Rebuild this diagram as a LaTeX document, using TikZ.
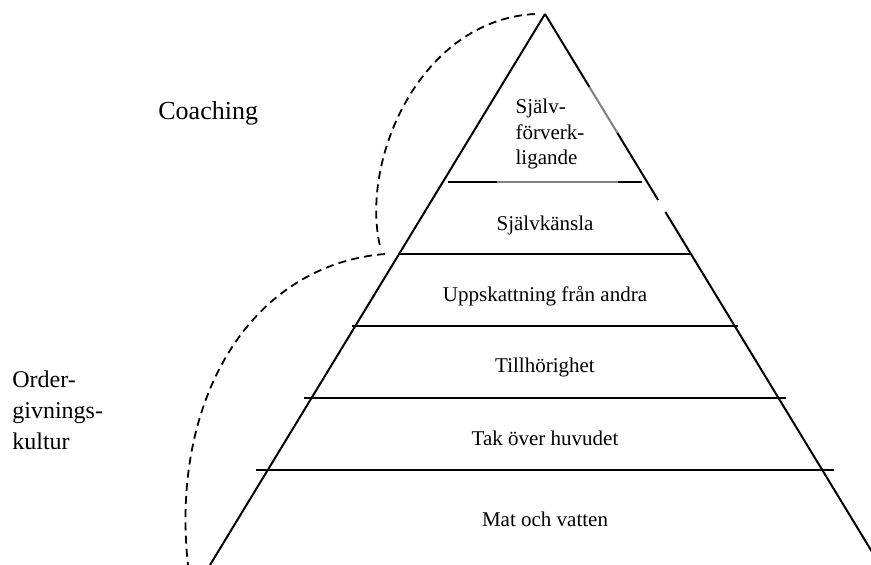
\documentclass[tikz,border=0pt]{standalone}
\usepackage{fontspec}
\setmainfont{Liberation Serif}

\colorlet{pyrLine}{black}
\colorlet{pyrGrey}{black!50}

\tikzset{
  side/.style={pyrLine, line width=1pt},
  level/.style={pyrLine, line width=1pt},
  zone/.style={pyrLine, line width=0.9pt, dash pattern=on 4pt off 2.6pt},
  lbl/.style={font=\fontsize{10.5}{12}\selectfont, inner sep=0pt},
  sidelbl/.style={anchor=west, align=left, inner sep=0pt}
}

\begin{document}
\begin{tikzpicture}[x=0.5pt, y=-0.5pt]
        \useasboundingbox (0,0) rectangle (871,565);
        \clip (0,0) rectangle (871,565);
        % apex and base
        \coordinate (T) at (545,14);
        \coordinate (L) at (210,565);
        \coordinate (R) at (880,565);
        % sides, right side with grey piece and a gap
        \draw[side] (T)--(L);
        \draw[side] (T)--(589.4,87);
        \draw[pyrGrey, line width=1pt] (589.4,87)--(617.4,133);
        \draw[side] (617.4,133)--(658.1,200);
        \draw[side] (665.4,212)--(R);
        % top level line
        \draw[level] (448,182)--(497,182);
        \draw[pyrGrey, line width=1pt] (497,182)--(618,182);
        \draw[level] (618,182)--(642,182);
        % other level lines
        \foreach \y/\w in {254/146, 326/193, 398/241, 470/289}
          \draw[level] (545-\w,\y)--(545+\w,\y);
        % labels in the pyramid
        \node[lbl, font=\fontsize{10.5}{12.8}\selectfont, align=left] (top) at (550,134)
              {Själv-\\förverk-\\ligande};
        \node[lbl] (self)   at (545,225) {Självkänsla};
        \node[lbl] (esteem) at (545,296) {Uppskattning från andra};
        \node[lbl] (belong) at (545,367) {Tillhörighet};
        \node[lbl] (roof)   at (545,438) {Tak över huvudet};
        \node[lbl] (food)   at (545,519) {Mat och vatten};
        % zones
        \node[sidelbl, font=\fontsize{13}{15}\selectfont] (coach) at (158,113) {Coaching};
        \node[sidelbl, font=\fontsize{12}{15.5}\selectfont] (order) at (12,410)
              {Order-\\givnings-\\kultur};
        \coordinate (C1) at (535,14);
        \coordinate (C2) at (380,246);
        \coordinate (O1) at (385,254);
        \coordinate (O2) at (188,565);
        \draw[zone] (C1) .. controls (420,20) and (360,160) .. (C2);
        \draw[zone] (O1) .. controls (250,265) and (170,400) .. (O2);
      \end{tikzpicture}
\end{document}
